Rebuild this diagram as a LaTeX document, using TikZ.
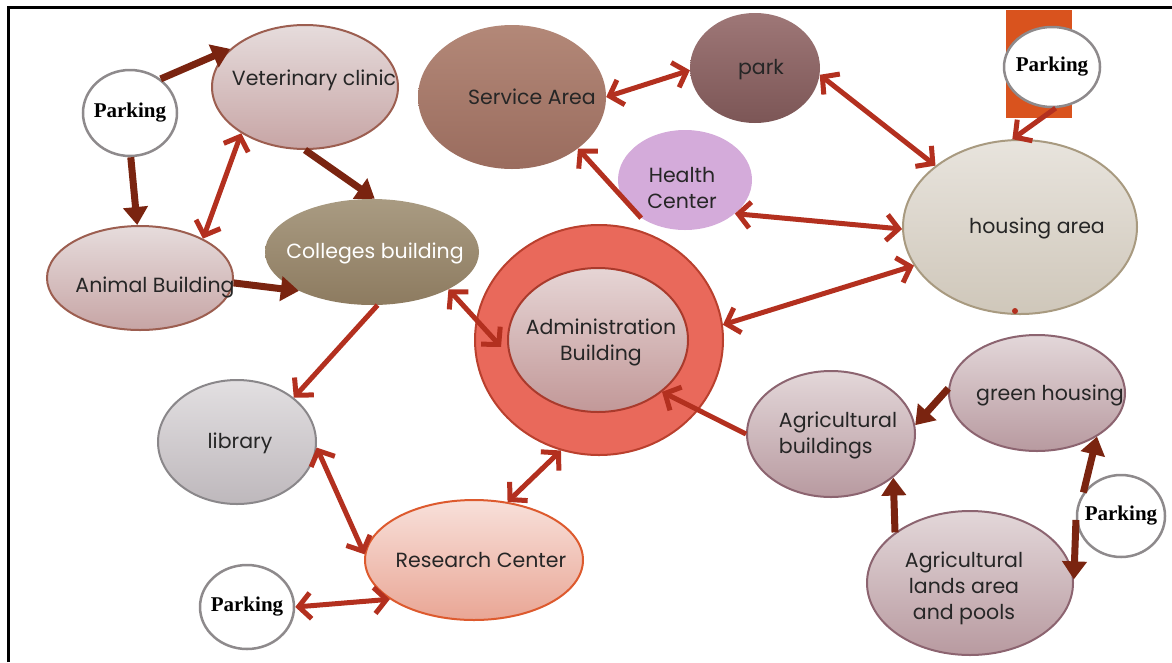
\documentclass[tikz,border=0pt]{standalone}
\usepackage{fontspec}
\setmainfont{Poppins}
\newfontfamily\pkfont{Liberation Serif}
\usetikzlibrary{shapes.geometric,arrows.meta}
\definecolor{redarr}{HTML}{B3301F}
\definecolor{brnarr}{HTML}{7A2410}
\definecolor{pkgray}{HTML}{8E8A8C}
\definecolor{roseT}{HTML}{E6DCDC}
\definecolor{roseB}{HTML}{C7A5A5}
\definecolor{roseD}{HTML}{9C5E50}
\definecolor{agriT}{HTML}{E3D7D9}
\definecolor{agriB}{HTML}{B89AA0}
\definecolor{agriD}{HTML}{8C6470}
\definecolor{libT}{HTML}{E2DFE1}
\definecolor{libB}{HTML}{BEB8BC}
\definecolor{libD}{HTML}{8A878A}
\definecolor{colT}{HTML}{A99B82}
\definecolor{colB}{HTML}{8D7B60}
\definecolor{servT}{HTML}{B38878}
\definecolor{servB}{HTML}{9A6C5E}
\definecolor{parkT}{HTML}{9E7777}
\definecolor{parkB}{HTML}{7C5656}
\definecolor{health}{HTML}{D4ABDA}
\definecolor{housT}{HTML}{E8E4DD}
\definecolor{housB}{HTML}{CFC7BA}
\definecolor{housD}{HTML}{A89A80}
\definecolor{admO}{HTML}{E9695B}
\definecolor{admOD}{HTML}{BA402E}
\definecolor{admIT}{HTML}{E6D5D5}
\definecolor{admIB}{HTML}{C29898}
\definecolor{admID}{HTML}{A93A2C}
\definecolor{resT}{HTML}{F8E0DA}
\definecolor{resB}{HTML}{E9A695}
\definecolor{resD}{HTML}{DD5A2E}
\definecolor{orangebar}{HTML}{D9531E}
\definecolor{textc}{HTML}{262626}
\begin{document}
\begin{tikzpicture}[x=1pt,y=-1pt,
  bub/.style={ellipse,inner sep=0pt,line width=2pt},
  pk/.style={ellipse,draw=pkgray,line width=2.5pt,fill=white,inner sep=-14pt,
    font=\pkfont\bfseries\fontsize{21}{23}\selectfont},
  txt/.style={font=\fontsize{20.5}{26}\selectfont,text=textc,align=center,inner sep=0pt},
  redone/.style={draw=redarr,line width=5pt,-{Straight Barb[length=12pt,width=26pt]}},
  redtwo/.style={draw=redarr,line width=5pt,{Straight Barb[length=12pt,width=26pt]}-{Straight Barb[length=12pt,width=26pt]}},
  brn/.style={draw=brnarr,line width=7pt,-{Triangle[length=18pt,width=24pt]}}
]
\useasboundingbox (0,0) rectangle (1172,662);
\draw[line width=3pt] (8.5,662) -- (8.5,7.5) -- (1172,7.5);
\fill[orangebar] (1006,10) rectangle (1072,118);

% nodes
\node[pk,minimum width=94pt,minimum height=86pt] (p1) at (130,113) {Parking};
\node[pk,minimum width=96pt,minimum height=80pt] (p2) at (1052,67) {Parking};
\node[pk,minimum width=94pt,minimum height=84pt] (p3) at (247,607) {Parking};
\node[pk,minimum width=88pt,minimum height=82pt] (p4) at (1121,516) {Parking};

\node[bub,top color=roseT,bottom color=roseB,draw=roseD,minimum width=186pt,minimum height=124pt,
  label={[txt,xshift=9pt,yshift=7pt]center:Veterinary clinic}] (vet) at (305,87) {};
\node[bub,top color=roseT,bottom color=roseB,draw=roseD,minimum width=186pt,minimum height=104pt,
  label={[txt,xshift=15pt,yshift=-9pt]center:Animal Building}] (anim) at (140,278) {};
\node[ellipse,inner sep=0pt,top color=colT,bottom color=colB,minimum width=214pt,minimum height=106pt,
  label={[txt,text=white,xshift=3pt,yshift=-1pt]center:Colleges building}] (col) at (372,252) {};
\node[ellipse,inner sep=0pt,top color=servT,bottom color=servB,minimum width=188pt,minimum height=144pt,
  label={[txt,xshift=20pt]center:Service Area}] (serv) at (512,97) {};
\node[ellipse,inner sep=0pt,top color=parkT,bottom color=parkB,minimum width=130pt,minimum height=110pt,
  label={[txt,xshift=6pt,yshift=-2pt]center:park}] (park) at (755,68) {};
\node[ellipse,inner sep=0pt,fill=health,minimum width=134pt,minimum height=100pt,
  label={[txt,xshift=-3pt,yshift=-8pt]center:Health\\Center}] (hc) at (685,180) {};
\node[bub,top color=housT,bottom color=housB,draw=housD,minimum width=234pt,minimum height=174pt,
  label={[txt,xshift=17pt,yshift=-1pt]center:housing area}] (hous) at (1020,227) {};
\node[bub,fill=admO,draw=admOD,minimum width=248pt,minimum height=230pt] (admo) at (599,340) {};
\node[bub,top color=admIT,bottom color=admIB,draw=admID,minimum width=180pt,minimum height=144pt,
  label={[txt,xshift=3pt,yshift=-2pt]center:Administration\\Building}] (admi) at (598,340) {};
\node[bub,top color=libT,bottom color=libB,draw=libD,minimum width=158pt,minimum height=124pt,
  label={[txt,xshift=3pt,yshift=-1pt]center:library}] (lib) at (237,442) {};
\node[bub,top color=resT,bottom color=resB,draw=resD,minimum width=218pt,minimum height=120pt,
  label={[txt,xshift=7pt]center:Research Center}] (res) at (474,560) {};
\node[bub,top color=agriT,bottom color=agriB,draw=agriD,minimum width=168pt,minimum height=126pt,
  label={[txt,align=left,xshift=7pt,yshift=-1pt]center:Agricultural\\buildings}] (agb) at (831,434) {};
\node[bub,top color=agriT,bottom color=agriB,draw=agriD,minimum width=176pt,minimum height=116pt,
  label={[txt,xshift=13pt,yshift=-2pt]center:green housing}] (gh) at (1037,393) {};
\node[bub,top color=agriT,bottom color=agriB,draw=agriD,minimum width=206pt,minimum height=144pt,
  label={[txt,xshift=-6pt,yshift=-5pt]center:Agricultural\\lands area\\and pools}] (agl) at (970,583) {};

\fill[redarr] (1015,311) circle (3pt);

% connectors
\draw[brn] (p1.48) -- (vet.153);
\draw[brn] (p1.271) -- (anim.93);
\draw[brn] (vet.270) -- (col.87);
\draw[brn] (anim.-3) -- (col.208);
\draw[redtwo] (vet.216) -- (anim.32);
\draw[redone] (col.276) -- (lib.38);
\draw[redtwo,shorten >=12pt] (col.334) -- (admi.190);
\draw[redone] (hc.221) -- (serv.322);
\draw[redtwo] (hc.326) -- (hous.181);
\draw[redtwo] (serv.0) -- (park.182);
\draw[redtwo] (park.-6) -- (hous.144);
\draw[redtwo] (admo.7) -- (hous.200);
\draw[redone] (p2.275) -- (hous.95);
\draw[redtwo] (admo.251) -- (res.60);
\draw[redtwo] (lib.-4) -- (res.177);
\draw[redtwo] (p3.0) -- (res.205);
\draw[redone] (agb.180) -- (admi.-39);
\draw[brn] (gh.177) -- (agb.6);
\draw[brn] (agl.146) -- (agb.-35);
\draw[brn] (p4.148) -- (gh.-36);
\draw[brn] (p4.185) -- (agl.2);
\end{tikzpicture}
\end{document}
